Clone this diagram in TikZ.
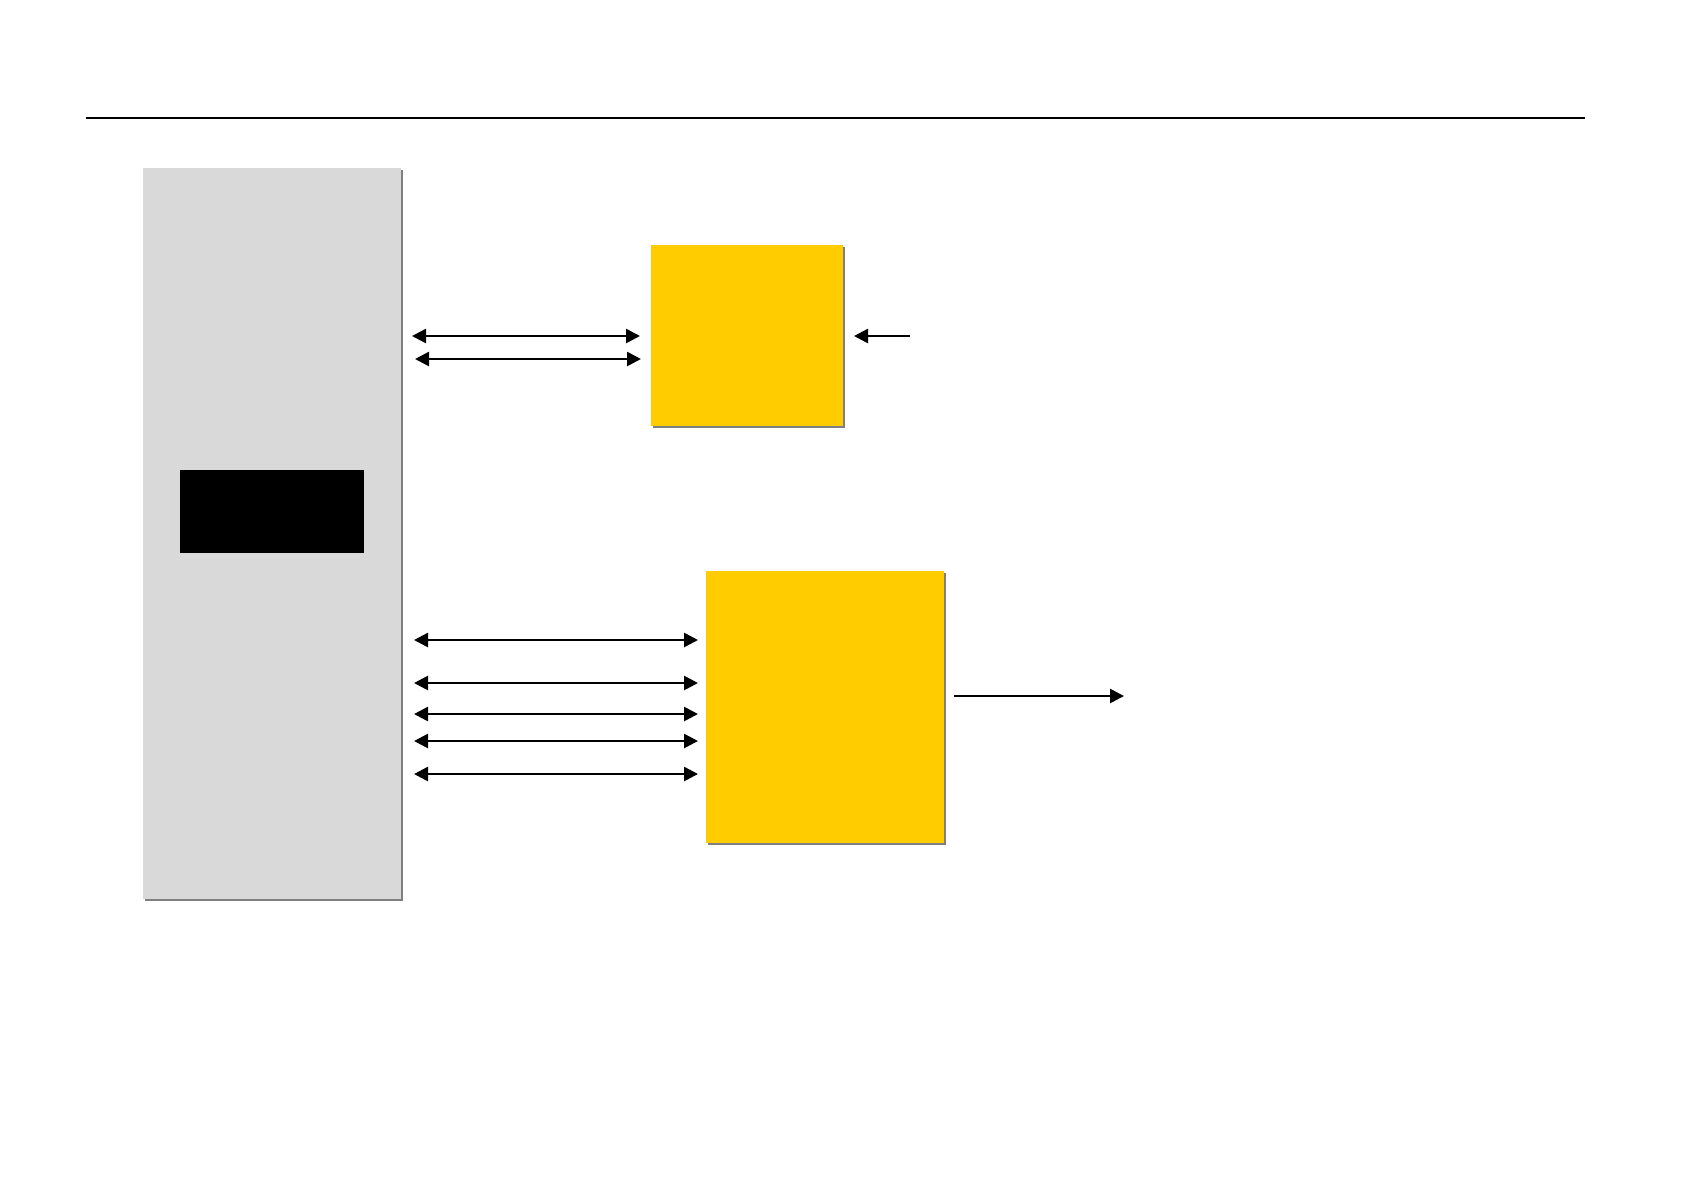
\documentclass[tikz,border=0pt]{standalone}
\usetikzlibrary{arrows.meta,shadows}
\definecolor{boxgray}{HTML}{D9D9D9}
\definecolor{boxyellow}{HTML}{FFCC00}
\definecolor{shadowgray}{HTML}{808080}
\tikzset{
  blockbox/.style={draw=none, inner sep=0pt, outer sep=0pt, anchor=north west,
    drop shadow={shadow xshift=1.2pt, shadow yshift=-1.2pt, fill=shadowgray, opacity=1}},
  link/.style={line width=1.3pt, -{Triangle[length=7pt,width=7pt]}},
  bilink/.style={line width=1.3pt, {Triangle[length=7pt,width=7pt]}-{Triangle[length=7pt,width=7pt]}},
}
\begin{document}
\begin{tikzpicture}[x=0.5pt,y=-0.5pt]
\useasboundingbox[fill=white] (0,0) rectangle (1684,1190);
% header rule
\coordinate (ruleL) at (86,118);
\coordinate (ruleR) at (1585,118);
\draw[line width=0.8pt] (ruleL) -- (ruleR);
% boxes
\node[blockbox, fill=boxgray, minimum width=129pt, minimum height=365.5pt] (host) at (143,168) {};
\node[draw=none, fill=black, inner sep=0pt, anchor=north west, minimum width=92pt, minimum height=41.5pt] (blk) at (180,470) {};
\node[blockbox, fill=boxyellow, minimum width=96pt, minimum height=90.5pt] (ya) at (651,245) {};
\node[blockbox, fill=boxyellow, minimum width=119pt, minimum height=136pt] (yb) at (706,571) {};
% row coordinates
\coordinate (r1) at (0,336);
\coordinate (r2) at (0,359);
\coordinate (s1) at (0,640);
\coordinate (s2) at (0,683);
\coordinate (s3) at (0,714);
\coordinate (s4) at (0,741);
\coordinate (s5) at (0,774);
\coordinate (inA) at (910,336);
\coordinate (outB) at (1124,696);
% upper links
\draw[bilink, shorten <=5.5pt, shorten >=5.5pt] (host.east |- r1) -- (ya.west |- r1);
\draw[bilink, shorten <=7pt, shorten >=5pt] (host.east |- r2) -- (ya.west |- r2);
\draw[link, shorten >=5.5pt] (inA) -- (ya.east |- inA);
% lower links
\foreach \r in {s1,s2,s3,s4,s5}{
  \draw[bilink, shorten <=6.5pt, shorten >=4pt] (host.east |- \r) -- (yb.west |- \r);
}
\draw[link, shorten <=5pt] (yb.east |- outB) -- (outB);
\end{tikzpicture}
\end{document}
